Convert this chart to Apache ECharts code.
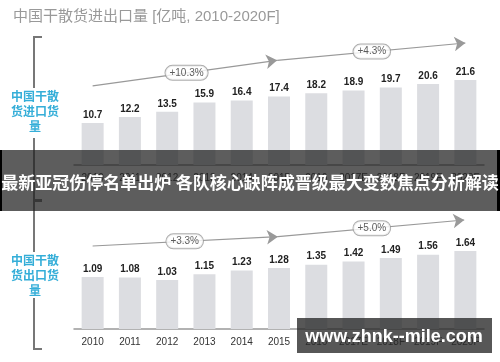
<!DOCTYPE html>
<html>
<head>
<meta charset="utf-8">
<script src="https://cdn.jsdelivr.net/npm/echarts@6/dist/echarts.min.js"></script>
<style>html,body{margin:0;padding:0;background:#fff}#c{width:500px;height:362px}</style>
</head>
<body>
<div id="c"></div>
<script>
const categories = ['2010','2011','2012','2013','2014','2015','2016','2017E','2018F','2019F','2020F'];
const importValues = [10.7,12.2,13.5,15.9,16.4,17.4,18.2,18.9,19.7,20.6,21.6];
const exportValues = [1.09,1.08,1.03,1.15,1.23,1.28,1.35,1.42,1.49,1.56,1.64];
const importTrend = [[0,20.1],[4.95,26.6],[10.0,31.0]];
const exportTrend = [[0,1.744],[4.97,1.94],[9.97,2.29]];
const importGrowth = [[2.52,23.41,'+10.3%'],[7.49,28.81,'+4.3%']];
const exportGrowth = [[2.47,1.841,'+3.3%'],[7.49,2.116,'+5.0%']];
const titleText = '中国干散货进出口量 [亿吨, 2010-2020F]';
const importLabel = '中国干散\n货进口货\n量';
const exportLabel = '中国干散\n货出口货\n量';
const bannerText = '最新亚冠伤停名单出炉 各队核心缺阵成晋级最大变数焦点分析解读';
const watermarkText = 'www.zhnk--mile.com';

const FONT = '"Liberation Sans", "Noto Sans CJK SC", sans-serif';
const chart = echarts.init(document.getElementById('c'));

function segs(t){
  const out=[];
  for(let i=0;i<t.length-1;i++) out.push({coords:[t[i],t[i+1]]});
  return out;
}
function catAxis(gi, show){
  return {type:'category', gridIndex:gi, data:categories,
    axisLine:{show:true, lineStyle:{color:'#999', width:1.5}},
    axisTick:{show:false},
    axisLabel:{show:show, interval:0, color:'#333', fontSize:10, margin:8, fontFamily:FONT}};
}
function valX(gi){ return {type:'value', gridIndex:gi, min:-0.5, max:10.5, show:false}; }
function barSeries(xi, yi, data){
  return {type:'bar', xAxisIndex:xi, yAxisIndex:yi, data:data, barWidth:22,
    itemStyle:{color:'#dcdde1'},
    label:{show:true, position:'top', distance:3, color:'#222', fontSize:10, fontWeight:'bold', fontFamily:FONT},
    silent:true};
}
function trendSeries(xi, yi, t){
  return {type:'lines', coordinateSystem:'cartesian2d', xAxisIndex:xi, yAxisIndex:yi,
    data:segs(t), symbol:['none','arrow'], symbolSize:11,
    lineStyle:{color:'#999', width:1.2, opacity:1}, z:5, silent:true};
}
function growthSeries(xi, yi, d){
  return {type:'scatter', xAxisIndex:xi, yAxisIndex:yi, data:d, symbolSize:0, z:6,
    label:{show:true, position:'inside', formatter:p=>p.data[2], color:'#333', fontSize:10, fontFamily:FONT,
      backgroundColor:'#fff', borderColor:'#999', borderWidth:1, borderRadius:8, padding:[2,4]}, silent:true};
}
function bracket(y1,y2,gapA,gapB){
  return [
    {type:'polyline', shape:{points:[[42,y1],[34,y1],[34,gapA]]}, style:{stroke:'#777', lineWidth:2, fill:null}},
    {type:'polyline', shape:{points:[[34,gapB],[34,y2],[42,y2]]}, style:{stroke:'#777', lineWidth:2, fill:null}}
  ];
}

chart.setOption({
  animation:false,
  title:{text:titleText, left:8, top:4, textStyle:{fontSize:15, color:'#999', fontWeight:'normal', fontFamily:FONT}},
  grid:[
    {left:74, right:16, top:30, height:135},
    {left:74, right:16, top:201, height:128}
  ],
  xAxis:[catAxis(0,true), catAxis(1,true), valX(0), valX(1)],
  yAxis:[
    {type:'value', gridIndex:0, min:0, max:34.3, show:false},
    {type:'value', gridIndex:1, min:0, max:2.689, show:false}
  ],
  series:[
    barSeries(0,0,importValues),
    barSeries(1,1,exportValues),
    trendSeries(2,0,importTrend),
    trendSeries(3,1,exportTrend),
    growthSeries(2,0,importGrowth),
    growthSeries(3,1,exportGrowth)
  ],
  graphic:[
    ...bracket(37,200,88,138),
    ...bracket(201,349,252,298),
    {type:'text', x:35, y:113, style:{text:importLabel, fill:'#35AED8', fontSize:12, fontWeight:'bold', lineHeight:15, align:'center', verticalAlign:'middle', fontFamily:FONT}},
    {type:'text', x:35, y:277, style:{text:exportLabel, fill:'#35AED8', fontSize:12, fontWeight:'bold', lineHeight:15, align:'center', verticalAlign:'middle', fontFamily:FONT}},
    {type:'rect', shape:{x:0, y:150, width:500, height:61}, style:{fill:'rgba(30,30,30,0.72)'}, z:100},
    {type:'rect', shape:{x:0, y:150, width:2, height:61}, style:{fill:'#000'}, z:101},
    {type:'rect', shape:{x:497, y:150, width:3, height:61}, style:{fill:'#000'}, z:101},
    {type:'text', x:250, y:184, style:{text:bannerText, fill:'#fff', fontSize:17, fontWeight:'bold', align:'center', verticalAlign:'middle', fontFamily:FONT}, z:102},
    {type:'rect', shape:{x:297, y:318, width:195, height:35}, style:{fill:'rgba(40,40,40,0.78)'}, z:100},
    {type:'text', x:394, y:337, style:{text:watermarkText, fill:'#fff', fontSize:18, fontWeight:'bold', align:'center', verticalAlign:'middle', fontFamily:FONT}, z:102}
  ]
});
</script>
</body>
</html>
